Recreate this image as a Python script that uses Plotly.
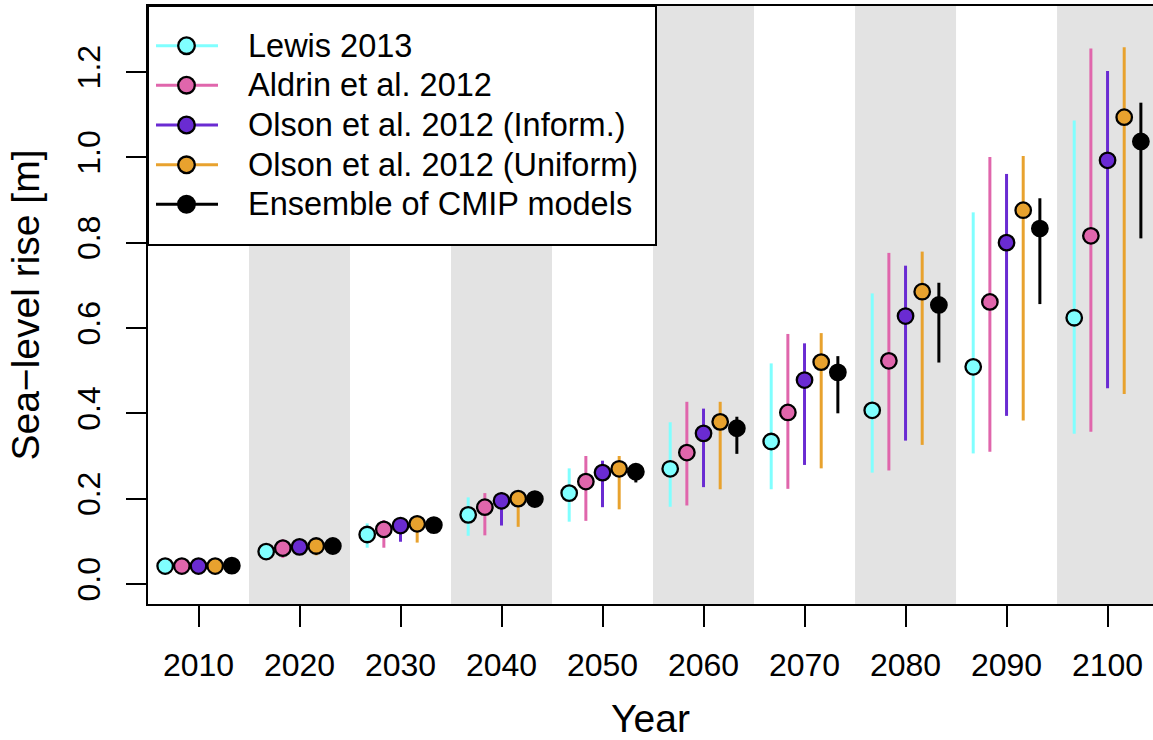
import numpy as np
import plotly.graph_objects as go

# Decades of the projection
years = [2010, 2020, 2030, 2040, 2050, 2060, 2070, 2080, 2090, 2100]

series_names = [
    "Lewis 2013",
    "Aldrin et al. 2012",
    "Olson et al. 2012 (Inform.)",
    "Olson et al. 2012 (Uniform)",
    "Ensemble of CMIP models",
]

# Median sea-level rise [m] and the lower / upper bounds of each range
lewis_mid = [0.042, 0.076, 0.116, 0.162, 0.213, 0.270, 0.334, 0.407, 0.509, 0.624]
lewis_lo = [0.035, 0.062, 0.085, 0.113, 0.146, 0.181, 0.222, 0.261, 0.306, 0.352]
lewis_hi = [0.050, 0.090, 0.142, 0.203, 0.271, 0.379, 0.517, 0.681, 0.871, 1.086]

aldrin_mid = [0.042, 0.084, 0.128, 0.180, 0.240, 0.308, 0.402, 0.523, 0.661, 0.816]
aldrin_lo = [0.033, 0.061, 0.085, 0.114, 0.148, 0.184, 0.223, 0.266, 0.310, 0.357]
aldrin_hi = [0.052, 0.105, 0.150, 0.213, 0.300, 0.427, 0.586, 0.776, 1.001, 1.255]

olson_inf_mid = [0.042, 0.087, 0.137, 0.195, 0.261, 0.353, 0.478, 0.628, 0.800, 0.993]
olson_inf_lo = [0.036, 0.070, 0.099, 0.137, 0.180, 0.227, 0.279, 0.336, 0.394, 0.459]
olson_inf_hi = [0.050, 0.100, 0.155, 0.215, 0.289, 0.411, 0.564, 0.746, 0.961, 1.202]

olson_uni_mid = [0.042, 0.089, 0.141, 0.200, 0.270, 0.380, 0.520, 0.685, 0.876, 1.094]
olson_uni_lo = [0.035, 0.067, 0.097, 0.134, 0.175, 0.222, 0.271, 0.326, 0.383, 0.445]
olson_uni_hi = [0.050, 0.105, 0.160, 0.220, 0.300, 0.427, 0.588, 0.779, 1.003, 1.258]

cmip_mid = [0.043, 0.089, 0.138, 0.199, 0.263, 0.365, 0.496, 0.654, 0.833, 1.037]
cmip_lo = [0.038, 0.078, 0.125, 0.185, 0.238, 0.305, 0.400, 0.519, 0.656, 0.810]
cmip_hi = [0.048, 0.095, 0.148, 0.210, 0.280, 0.392, 0.534, 0.706, 0.904, 1.128]

fill_colors = ["#80FFFF", "#E066AC", "#6A2BD2", "#E8A22E", "#000000"]
bar_colors = ["#80FFFF", "#E066AC", "#6A2BD2", "#E8A22E", "#000000"]

y_ticks = [0.0, 0.2, 0.4, 0.6, 0.8, 1.0, 1.2]
y_tick_labels = ["0.0", "0.2", "0.4", "0.6", "0.8", "1.0", "1.2"]

mids = [lewis_mid, aldrin_mid, olson_inf_mid, olson_uni_mid, cmip_mid]
los = [lewis_lo, aldrin_lo, olson_inf_lo, olson_uni_lo, cmip_lo]
his = [lewis_hi, aldrin_hi, olson_inf_hi, olson_uni_hi, cmip_hi]

# horizontal dodge (in years) so the five estimates sit side by side
dodge = [-3.3, -1.65, 0.0, 1.65, 3.3]

FONT = "Liberation Sans, Arial, Helvetica, sans-serif"

fig = go.Figure()

for name, mid, lo, hi, off, fc, bc in zip(series_names, mids, los, his, dodge,
                                            fill_colors, bar_colors):
    mid = np.array(mid)
    x = np.array(years) + off
    fig.add_trace(go.Scatter(
        x=x, y=mid, mode="markers", name=name, showlegend=False,
        marker=dict(size=15.5, color=fc, line=dict(color="black", width=2.3)),
        error_y=dict(type="data", symmetric=False,
                     array=np.array(hi) - mid, arrayminus=mid - np.array(lo),
                     color=bc, thickness=3, width=0),
        hoverinfo="skip",
    ))

# grey shading on alternate decades
shapes = []
for d in years[1::2]:
    shapes.append(dict(type="rect", xref="x", yref="paper", x0=d - 5, x1=d + 5,
                       y0=0, y1=1, fillcolor="#E3E3E3", line=dict(width=0),
                       layer="below"))

# legend box drawn in the top-left corner of the panel
W, H = 1153, 740
ml, mt, mb = 148, 6, 136
pw, ph = W - ml, H - mt - mb


def px(xp):
    return (xp - ml) / pw


def py(yp):
    return (H - mb - yp) / ph


shapes.append(dict(type="rect", xref="paper", yref="paper",
                   x0=px(148), x1=px(656), y0=py(245), y1=py(6),
                   fillcolor="white", line=dict(color="black", width=2),
                   layer="above"))

annotations = []
row_y = [45.7, 85.2, 125.0, 164.8, 204.3]
for name, fc, bc, ry in zip(series_names, fill_colors, bar_colors, row_y):
    shapes.append(dict(type="line", xref="paper", yref="paper",
                       x0=px(156), x1=px(218), y0=py(ry), y1=py(ry),
                       line=dict(color=bc, width=3), layer="above"))
    shapes.append(dict(type="circle", xref="paper", yref="paper",
                       xsizemode="pixel", ysizemode="pixel",
                       xanchor=px(186.5), yanchor=py(ry),
                       x0=-8.3, x1=8.3, y0=-8.3, y1=8.3,
                       fillcolor=fc, line=dict(color="black", width=2.3),
                       layer="above"))
    annotations.append(dict(xref="paper", yref="paper", x=px(246), y=py(ry),
                            xanchor="left", yanchor="middle", showarrow=False,
                            text=name, font=dict(family=FONT, size=32.5, color="black")))

fig.update_layout(
    width=W, height=H,
    margin=dict(l=ml, r=0, t=mt, b=mb, pad=0),
    paper_bgcolor="white", plot_bgcolor="white",
    shapes=shapes, annotations=annotations,
    showlegend=False,
    font=dict(family=FONT, color="black"),
    xaxis=dict(
        range=[2005.0, 2104.5], tickvals=years, ticktext=[str(y) for y in years],
        ticks="outside", ticklen=21, tickwidth=2, tickcolor="black",
        showline=True, linecolor="black", linewidth=2, mirror=True,
        showgrid=False, zeroline=False, ticklabelstandoff=11,
        tickfont=dict(family=FONT, size=32, color="black"),
        title=dict(text="Year", font=dict(family=FONT, size=39, color="black"),
                   standoff=30),
    ),
    yaxis=dict(
        range=[-0.0469, 1.3546], tickvals=y_ticks, ticktext=y_tick_labels,
        tickangle=-90,
        ticks="outside", ticklen=20, tickwidth=2, tickcolor="black",
        showline=True, linecolor="black", linewidth=2, mirror=False,
        showgrid=False, zeroline=False, ticklabelstandoff=13,
        tickfont=dict(family=FONT, size=32, color="black"),
        title=dict(text="Sea\u2212level rise [m]",
                   font=dict(family=FONT, size=39, color="black"), standoff=20),
    ),
)

fig.write_html("out.html")
